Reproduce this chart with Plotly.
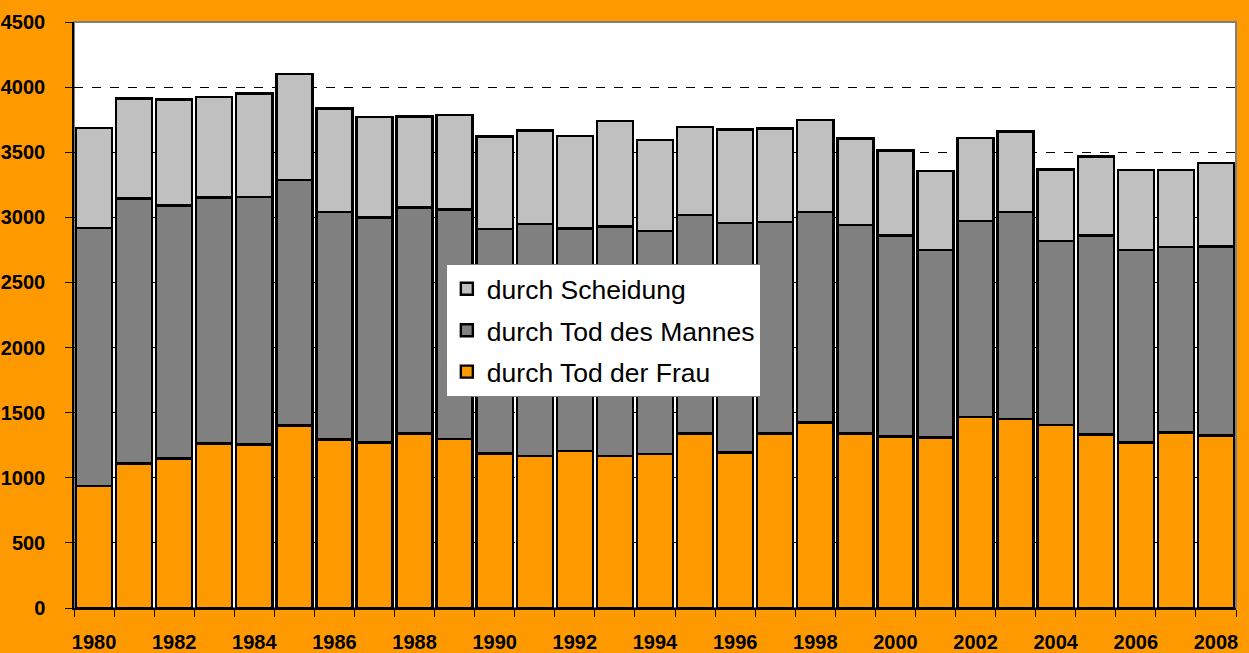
import plotly.graph_objects as go

years = list(range(1980, 2009))
tod_frau = [939, 1111, 1149, 1262, 1257, 1400, 1295, 1270, 1341, 1300,
            1185, 1167, 1206, 1165, 1183, 1339, 1195, 1339, 1426, 1341,
            1316, 1308, 1467, 1451, 1405, 1331, 1272, 1349, 1326]
tod_mann = [1981, 2035, 1943, 1891, 1898, 1887, 1746, 1730, 1736, 1759,
            1725, 1782, 1707, 1766, 1714, 1679, 1761, 1623, 1615, 1598,
            1546, 1441, 1505, 1590, 1411, 1528, 1477, 1423, 1451]
scheidung = [764, 768, 814, 773, 795, 814, 796, 770, 698, 729,
             712, 719, 711, 811, 697, 676, 720, 719, 706, 665,
             650, 609, 637, 619, 552, 609, 614, 591, 638]
y_ticks = list(range(0, 4501, 500))

series = [
    ("durch Tod der Frau", tod_frau, "#FF9900", 3),
    ("durch Tod des Mannes", tod_mann, "#808080", 2),
    ("durch Scheidung", scheidung, "#C0C0C0", 1),
]

fig = go.Figure()
for i, (name, vals, col, rank) in enumerate(series):
    fig.add_trace(go.Bar(
        x=years, y=vals, name=name, legendgroup=f"g{i}", legendrank=rank,
        marker=dict(color=col, line=dict(color="black", width=2.4)),
    ))

fig.update_layout(
    width=1249, height=653,
    barmode="stack", bargap=0.1,
    paper_bgcolor="#FF9900", plot_bgcolor="white",
    margin=dict(l=74, r=13, t=22, b=45, autoexpand=False),
    font=dict(family="Liberation Sans, Arial, sans-serif", color="black"),
    legend=dict(
        x=0.320, y=0.5870, xanchor="left", yanchor="top",
        bgcolor="white", bordercolor="#808080", borderwidth=1,
        font=dict(size=26.5), traceorder="grouped", tracegroupgap=4,
        entrywidth=290, entrywidthmode="pixels",
    ),
    showlegend=True,
    shapes=[dict(type="rect", xref="paper", yref="paper", x0=0, x1=1, y0=0, y1=1,
                 line=dict(color="#808080", width=2), layer="below")],
)
fig.update_xaxes(
    range=[1979.5, 2008.5], tickmode="linear", tick0=1980, dtick=2,
    ticks="", ticklabelstandoff=15, automargin=False,
    tickfont=dict(size=20, family="Liberation Sans, Arial, sans-serif", weight="bold"),
    showline=True, linecolor="black", linewidth=1.5, showgrid=False, zeroline=False,
    minor=dict(tick0=1979.5, dtick=1, ticks="outside", ticklen=7, tickcolor="black", showgrid=False),
)
fig.update_yaxes(
    range=[0, 4500], tickmode="array", tickvals=y_ticks, ticks="outside", ticklen=7,
    tickcolor="black", ticklabelstandoff=16, automargin=False,
    tickfont=dict(size=20, family="Liberation Sans, Arial, sans-serif", weight="bold"),
    showline=True, linecolor="black", linewidth=1.5,
    showgrid=True, gridcolor="black", griddash="dash", gridwidth=1, zeroline=False,
)

fig.write_html("out.html", config={"displayModeBar": False},
               post_script="document.body.style.margin='0';document.body.style.padding='0';")
